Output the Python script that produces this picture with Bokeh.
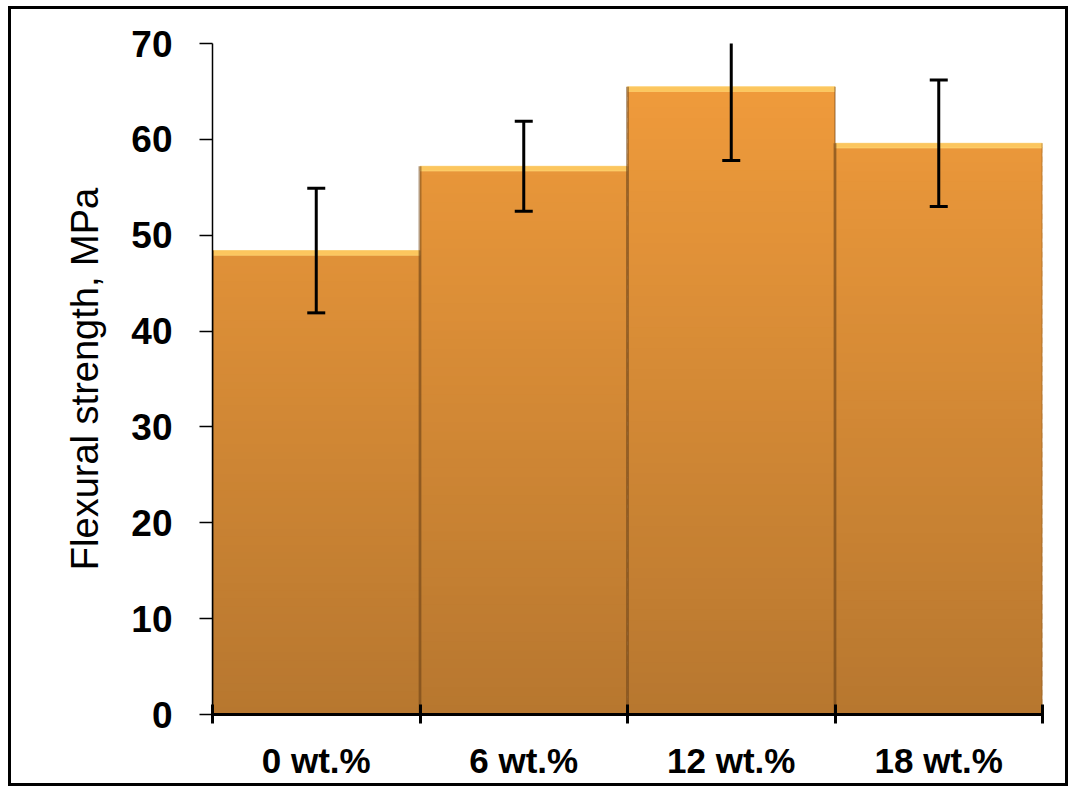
from bokeh.plotting import figure
from bokeh.models import Range1d, FixedTicker, ColumnDataSource
from bokeh.embed import file_html
from bokeh.resources import INLINE

# ---- data ----
categories = ["0 wt.%", "6 wt.%", "12 wt.%", "18 wt.%"]
strength = [48.4, 57.2, 65.5, 59.6]       # MPa
error = [6.5, 4.7, 7.7, 6.6]              # MPa (symmetric)
y_ticks = [0, 10, 20, 30, 40, 50, 60, 70]

# ---- style ----
TOP_RGB = (243, 157, 60)
BOT_RGB = (183, 119, 47)
FONT = "Liberation Sans"
N_BANDS = 60
YMAX = 70

def lerp(c0, c1, t):
    return "#%02x%02x%02x" % tuple(int(round(a + (b - a) * t)) for a, b in zip(c0, c1))

xs = list(range(len(categories)))

# gradient bands for each bar (computed from the data values)
bl, br, bb, bt, bc = [], [], [], [], []
for x, v in zip(xs, strength):
    for k in range(N_BANDS):
        y0 = v * k / N_BANDS
        y1 = v * (k + 1) / N_BANDS
        t = ((y0 + y1) / 2) / YMAX
        bl.append(x - 0.5); br.append(x + 0.5)
        bb.append(y0)
        bt.append(min(v, y1 + v / N_BANDS * 0.6))  # slight overlap hides seams
        bc.append(lerp(BOT_RGB, TOP_RGB, t))
bands = ColumnDataSource(dict(left=bl, right=br, bottom=bb, top=bt, color=bc))

src = ColumnDataSource(dict(
    x=xs,
    left=[x - 0.5 for x in xs],
    right=[x + 0.5 for x in xs],
    top=strength,
    hl_bottom=[v - 0.5 for v in strength],
    upper=[v + e for v, e in zip(strength, error)],
    lower=[v - e for v, e in zip(strength, error)],
))

p = figure(width=1054, height=774,
           x_range=Range1d(-0.5, len(categories) - 0.5),
           y_range=Range1d(0, YMAX),
           output_backend="svg", toolbar_location=None,
           min_border_left=201, min_border_right=29,
           min_border_top=34, min_border_bottom=75)
p.styles = {"border": "3px solid black", "box-sizing": "content-box",
            "margin-left": "8px", "margin-top": "6px"}

p.outline_line_color = None
p.xgrid.grid_line_color = None
p.ygrid.grid_line_color = None
p.background_fill_color = "white"
p.border_fill_color = "white"

# bars with vertical gradient
p.quad(left="left", right="right", bottom="bottom", top="top", source=bands,
       fill_color="color", line_color=None)
# bevel highlight at the top of each bar
p.quad(left="left", right="right", bottom="hl_bottom", top="top", source=src,
       fill_color="#fcc65e", line_color=None)
p.quad(left="left", right="right", bottom="hl_bottom", top="top", source=src,
       fill_alpha=0, line_color="#ffd878", line_width=1, line_alpha=0.6)
# dark shading on the edges between bars
p.segment(x0="left", y0=0, x1="left", y1="top", source=src,
          line_color="#7a4c1c", line_width=3, line_alpha=0.55)
p.segment(x0="right", y0=0, x1="right", y1="top", source=src,
          line_color="#7a4c1c", line_width=2, line_alpha=0.4)

# error bars
p.segment(x0="x", y0="lower", x1="x", y1="upper", source=src,
          line_color="black", line_width=3)
p.scatter(x="x", y="upper", source=src, marker="dash", size=18,
          line_color="black", line_width=3)
p.scatter(x="x", y="lower", source=src, marker="dash", size=18,
          line_color="black", line_width=3)

# x axis: labels at bar centres, tick marks at bar boundaries
xa = p.xaxis[0]
xa.ticker = FixedTicker(ticks=xs, minor_ticks=[x - 0.5 for x in xs] + [xs[-1] + 0.5])
xa.major_label_overrides = {x: c for x, c in zip(xs, categories)}
xa.major_tick_line_color = None
xa.major_tick_in = 0
xa.major_tick_out = 0
xa.minor_tick_line_color = "black"
xa.minor_tick_line_width = 3
xa.minor_tick_in = 10
xa.minor_tick_out = 9
xa.axis_line_color = "black"
xa.axis_line_width = 3
xa.major_label_text_font = FONT
xa.major_label_text_font_style = "bold"
xa.major_label_text_font_size = "35px"
xa.major_label_text_color = "black"
xa.major_label_standoff = 17

# y axis
ya = p.yaxis[0]
ya.ticker = FixedTicker(ticks=y_ticks)
ya.minor_tick_line_color = None
ya.major_tick_in = 0
ya.major_tick_out = 13
ya.major_tick_line_color = "black"
ya.major_tick_line_width = 1.5
ya.axis_line_color = "black"
ya.axis_line_width = 1.5
ya.major_label_text_font = FONT
ya.major_label_text_font_style = "bold"
ya.major_label_text_font_size = "37px"
ya.major_label_text_color = "black"
ya.major_label_standoff = 27
ya.axis_label = "Flexural strength, MPa"
ya.axis_label_text_font = FONT
ya.axis_label_text_font_style = "normal"
ya.axis_label_text_font_size = "38px"
ya.axis_label_text_color = "black"
ya.axis_label_standoff = 22

open("out.html", "w").write(file_html(p, INLINE))
